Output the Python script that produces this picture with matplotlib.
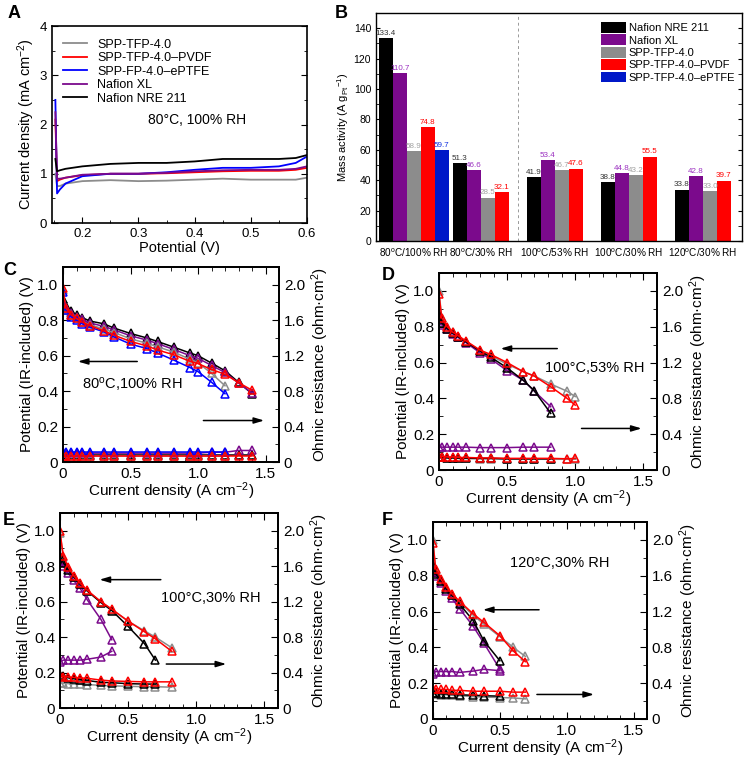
import numpy as np
import matplotlib
matplotlib.use("Agg")
import matplotlib.pyplot as plt
from matplotlib.ticker import MultipleLocator
from matplotlib.patches import Patch

plt.rcParams['font.family'] = ['Liberation Sans', 'DejaVu Sans']
plt.rcParams['mathtext.fontset'] = 'custom'
plt.rcParams['mathtext.rm'] = 'Liberation Sans'
plt.rcParams['mathtext.it'] = 'Liberation Sans:italic'
plt.rcParams['mathtext.bf'] = 'Liberation Sans:bold'
plt.rcParams['xtick.direction'] = 'in'
plt.rcParams['ytick.direction'] = 'in'

BLACK = 'black'
PURPLE = '#7B0A8C'
GRAY = '#8C8C8C'
RED = '#FF0000'
BLUE = '#0000FF'

# ---- panel A: crossover current
potA = [0.152, 0.155, 0.16, 0.17, 0.2, 0.25, 0.3, 0.35, 0.4, 0.45, 0.5, 0.55, 0.58, 0.6]
curA_gray = [1.0, 0.75, 0.75, 0.8, 0.85, 0.87, 0.85, 0.86, 0.88, 0.9, 0.88, 0.88, 0.88, 0.92]
curA_red = [2.1, 0.85, 0.88, 0.92, 0.97, 1.0, 1.0, 1.01, 1.03, 1.05, 1.06, 1.06, 1.08, 1.12]
curA_blue = [2.5, 0.6, 0.68, 0.8, 0.95, 1.0, 1.0, 1.03, 1.08, 1.12, 1.12, 1.15, 1.22, 1.35]
curA_purple = [2.25, 0.9, 0.9, 0.92, 0.98, 1.0, 1.0, 1.02, 1.05, 1.07, 1.08, 1.08, 1.1, 1.15]
curA_black = [1.3, 1.05, 1.07, 1.1, 1.15, 1.2, 1.22, 1.22, 1.25, 1.3, 1.3, 1.3, 1.32, 1.38]

# ---- panel B: mass activity
groupsB = ['80$^{\\rm o}$C/100% RH', '80$^{\\rm o}$C/30% RH', '100$^{\\rm o}$C/53% RH',
           '100$^{\\rm o}$C/30% RH', '120$^{\\rm o}$C/30% RH']
nameB = ['Nafion NRE 211', 'Nafion XL', 'SPP-TFP-4.0', 'SPP-TFP-4.0\u2013PVDF', 'SPP-TFP-4.0\u2013ePTFE']
ma_nre211 = [133.4, 51.3, 41.9, 38.8, 33.8]
ma_xl = [110.7, 46.6, 53.4, 44.8, 42.8]
ma_tfp = [58.9, 28.5, 46.7, 43.2, 33.0]
ma_pvdf = [74.8, 32.1, 47.6, 55.5, 39.7]
ma_eptfe = [59.7]

# ---- panel C: 80C 100% RH
jC = [0, 0.02, 0.06, 0.1, 0.14, 0.2, 0.3, 0.38, 0.5, 0.62, 0.7, 0.82, 0.94, 1.0, 1.1, 1.2, 1.3, 1.4]
vC_red = [0.98, 0.87, 0.83, 0.81, 0.79, 0.77, 0.74, 0.715, 0.68, 0.655, 0.632, 0.605, 0.568, 0.555, 0.522, 0.495, 0.448, 0.405]
vC_black = [0.92, 0.88, 0.85, 0.83, 0.815, 0.795, 0.78, 0.755, 0.725, 0.70, 0.68, 0.648, 0.615, 0.60, 0.558, 0.515, 0.45, 0.385]
vC_purple = [0.90, 0.87, 0.84, 0.82, 0.805, 0.785, 0.765, 0.745, 0.712, 0.688, 0.668, 0.635, 0.60, 0.585, 0.545, 0.505, 0.445, 0.39]
vC_gray = [0.97, 0.86, 0.83, 0.81, 0.79, 0.775, 0.75, 0.73, 0.695, 0.67, 0.65, 0.62, 0.58, 0.56, 0.50, 0.43]
vC_blue = [0.96, 0.86, 0.82, 0.80, 0.78, 0.76, 0.735, 0.705, 0.665, 0.64, 0.615, 0.575, 0.533, 0.51, 0.45, 0.385]
rC_red = [0.07, 0.07, 0.07, 0.07, 0.07, 0.07, 0.07, 0.07, 0.07, 0.07, 0.07, 0.07, 0.07, 0.07, 0.07, 0.07, 0.07, 0.07]
rC_black = [0.08, 0.08, 0.08, 0.08, 0.08, 0.08, 0.08, 0.08, 0.08, 0.08, 0.08, 0.08, 0.08, 0.08, 0.08, 0.08, 0.08, 0.08]
rC_purple = [0.10, 0.10, 0.10, 0.10, 0.10, 0.10, 0.10, 0.10, 0.10, 0.10, 0.10, 0.10, 0.10, 0.10, 0.11, 0.11, 0.13, 0.13]
rC_gray = [0.065, 0.065, 0.065, 0.065, 0.065, 0.065, 0.065, 0.065, 0.065, 0.065, 0.065, 0.065, 0.065, 0.065, 0.065, 0.065]
rC_blue = [0.115, 0.115, 0.115, 0.115, 0.115, 0.115, 0.115, 0.115, 0.115, 0.115, 0.115, 0.115, 0.115, 0.115, 0.115, 0.115]

# ---- panel D: 100C 53% RH
jD = [0, 0.02, 0.06, 0.1, 0.14, 0.2, 0.3, 0.38, 0.5, 0.62, 0.7, 0.82, 0.94, 1.0]
vD_red = [0.98, 0.85, 0.80, 0.77, 0.75, 0.72, 0.67, 0.645, 0.60, 0.548, 0.524, 0.465, 0.40, 0.362]
vD_gray = [1.0, 0.85, 0.80, 0.77, 0.745, 0.715, 0.665, 0.64, 0.59, 0.55, 0.525, 0.48, 0.44, 0.41]
vD_black = [0.87, 0.82, 0.79, 0.765, 0.745, 0.715, 0.665, 0.63, 0.57, 0.50, 0.442, 0.316]
vD_purple = [0.86, 0.81, 0.785, 0.76, 0.74, 0.71, 0.655, 0.62, 0.555, 0.50, 0.44, 0.353]
rD_purple = [0.26, 0.255, 0.255, 0.255, 0.255, 0.255, 0.25, 0.25, 0.25, 0.255, 0.255, 0.255]
rD_red = [0.15, 0.15, 0.145, 0.145, 0.14, 0.14, 0.135, 0.135, 0.13, 0.13, 0.13, 0.13, 0.125, 0.13]
rD_gray = [0.14, 0.14, 0.135, 0.135, 0.13, 0.13, 0.125, 0.125, 0.12, 0.12, 0.12, 0.12, 0.12, 0.12]
rD_black = [0.14, 0.14, 0.135, 0.135, 0.13, 0.13, 0.13, 0.13, 0.125, 0.125, 0.125, 0.125]

# ---- panel E: 100C 30% RH
jE = [0, 0.024, 0.06, 0.1, 0.146, 0.2, 0.3, 0.38, 0.5, 0.62, 0.7, 0.82]
vE_red = [0.996, 0.857, 0.795, 0.746, 0.705, 0.664, 0.60, 0.558, 0.49, 0.43, 0.39, 0.32]
vE_gray = [0.99, 0.85, 0.79, 0.74, 0.70, 0.66, 0.60, 0.555, 0.49, 0.435, 0.40, 0.34]
vE_black = [0.86, 0.82, 0.78, 0.74, 0.70, 0.66, 0.595, 0.55, 0.46, 0.363, 0.27]
vE_purple = [0.83, 0.80, 0.76, 0.72, 0.677, 0.61, 0.50, 0.385]
rE_purple = [0.515, 0.54, 0.54, 0.54, 0.54, 0.55, 0.575, 0.64]
rE_red = [0.36, 0.355, 0.35, 0.345, 0.34, 0.335, 0.315, 0.305, 0.30, 0.295, 0.295, 0.295]
rE_gray = [0.28, 0.28, 0.275, 0.27, 0.27, 0.265, 0.255, 0.25, 0.245, 0.24, 0.24, 0.235]
rE_black = [0.37, 0.36, 0.34, 0.33, 0.32, 0.31, 0.29, 0.285, 0.275, 0.27, 0.27]

# ---- panel F: 120C 30% RH
jF = [0, 0.02, 0.06, 0.1, 0.14, 0.2, 0.3, 0.38, 0.5, 0.6, 0.69]
vF_red = [0.98, 0.84, 0.78, 0.737, 0.70, 0.657, 0.587, 0.54, 0.465, 0.38, 0.32]
vF_gray = [1.0, 0.83, 0.77, 0.73, 0.695, 0.65, 0.58, 0.53, 0.46, 0.40, 0.35]
vF_black = [0.86, 0.81, 0.77, 0.725, 0.69, 0.64, 0.55, 0.437, 0.325]
vF_purple = [0.84, 0.80, 0.76, 0.715, 0.675, 0.615, 0.518, 0.424, 0.278]
rF_purple = [0.50, 0.53, 0.53, 0.53, 0.53, 0.52, 0.535, 0.555, 0.54]
rF_red = [0.33, 0.34, 0.33, 0.33, 0.32, 0.32, 0.31, 0.31, 0.31, 0.30, 0.30]
rF_gray = [0.28, 0.28, 0.27, 0.27, 0.265, 0.26, 0.25, 0.245, 0.24, 0.235, 0.225]
rF_black = [0.29, 0.29, 0.28, 0.28, 0.275, 0.27, 0.265, 0.26, 0.255]

fig = plt.figure(figsize=(7.5, 7.6), dpi=100)
W, H = 750.0, 760.0


def box(x0, y0, x1, y1):
    return [x0 / W, 1 - y1 / H, (x1 - x0) / W, (y1 - y0) / H]


# ================= A
axA = fig.add_axes(box(52, 26, 307, 223))
axA.plot(potA, curA_gray, color=GRAY, lw=1.3, label='SPP-TFP-4.0')
axA.plot(potA, curA_red, color=RED, lw=1.3, label='SPP-TFP-4.0\u2013PVDF')
axA.plot(potA, curA_blue, color=BLUE, lw=1.3, label='SPP-FP-4.0\u2013ePTFE')
axA.plot(potA, curA_purple, color=PURPLE, lw=1.3, label='Nafion XL')
axA.plot(potA, curA_black, color=BLACK, lw=1.3, label='Nafion NRE 211')
axA.set_xlim(0.146, 0.6)
axA.set_ylim(0, 4)
axA.xaxis.set_major_locator(MultipleLocator(0.1))
axA.xaxis.set_minor_locator(MultipleLocator(0.05))
axA.yaxis.set_major_locator(MultipleLocator(1))
axA.yaxis.set_minor_locator(MultipleLocator(0.5))
axA.tick_params(which='both', right=True, labelsize=9.5)
axA.tick_params(which='major', length=4)
axA.tick_params(which='minor', length=2)
axA.set_xlabel('Potential (V)', fontsize=10.5, labelpad=1)
axA.set_ylabel('Current density (mA cm$^{-2}$)', fontsize=10.5, labelpad=2)
axA.legend(loc='upper left', frameon=False, fontsize=9, handlelength=1.9,
           labelspacing=0.12, borderaxespad=0.3, bbox_to_anchor=(0.01, 0.98))
axA.text(0.405, 2.1, '80\u00b0C, 100% RH', fontsize=10, ha='center', va='center')
for s in axA.spines.values():
    s.set_linewidth(1.2)

# ================= B
axB = fig.add_axes(box(376, 13, 742, 241))
w = 0.189
seriesB = [ma_nre211, ma_xl, ma_tfp, ma_pvdf, ma_eptfe]
colB = [BLACK, PURPLE, GRAY, RED, '#0018C8']
txtB = ['#333333', '#9B30C0', '#A0A0A0', RED, '#1030E0']
for k, vals in enumerate(seriesB):
    xs = [g + (k + 0.5) * w for g in range(len(vals))]
    axB.bar(xs, vals, width=w, color=colB[k], label=nameB[k], linewidth=0)
    for xv, yv in zip(xs, vals):
        axB.text(xv, yv + 0.8, '%.1f' % yv, fontsize=5.8, color=txtB[k],
                 ha='center', va='bottom')
axB.axvline(1.88, color='#999999', lw=0.7, ls=(0, (3, 3)))
axB.set_xlim(-0.04, 4.905)
axB.set_ylim(0, 150)
centers = [g + 2.0 * w if g > 0 else g + 2.5 * w for g in range(5)]
axB.set_xticks(centers)
axB.set_xticklabels(groupsB, fontsize=7.2)
axB.yaxis.set_major_locator(MultipleLocator(20))
axB.yaxis.set_minor_locator(MultipleLocator(10))
axB.tick_params(axis='x', length=0, pad=4)
axB.tick_params(axis='y', which='both', right=True, labelsize=7.5, length=3)
axB.set_ylabel('Mass activity (A g$_{\\rm Pt}$$^{-1}$)', fontsize=8, labelpad=2)
hB = [Patch(facecolor=c) for c in colB]
axB.legend(hB, nameB, loc='upper right', frameon=False, fontsize=8,
           handlelength=2.2, handleheight=1.1, labelspacing=0.12,
           handletextpad=0.3, borderaxespad=0.2, bbox_to_anchor=(1.0, 0.99))
for s in axB.spines.values():
    s.set_linewidth(1.0)


# ================= C-F
def polpanel(rect, j, vsets, rsets, txt, txtpos, larr, rarr):
    ax = fig.add_axes(box(*rect))
    ax2 = ax.twinx()
    for vals, col in vsets:
        ax.plot(j[:len(vals)], vals, color=col, lw=1.1, marker='^', ms=6,
                mfc='none', mec=col, mew=1.1)
    for vals, col in rsets:
        ax2.plot(j[:len(vals)], vals, color=col, lw=1.1, marker='^', ms=6,
                 mfc='none', mec=col, mew=1.1)
    ax.set_xlim(0, 1.6)
    ax.set_ylim(0, 1.1)
    ax2.set_ylim(0, 2.2)
    ax.xaxis.set_minor_locator(MultipleLocator(0.1))
    ax.yaxis.set_minor_locator(MultipleLocator(0.1))
    ax2.yaxis.set_minor_locator(MultipleLocator(0.2))
    ax.set_xticks([0, 0.5, 1.0, 1.5])
    ax.set_xticklabels(['0', '0.5', '1.0', '1.5'])
    ax.set_yticks([0, 0.2, 0.4, 0.6, 0.8, 1.0])
    ax.set_yticklabels(['0', '0.2', '0.4', '0.6', '0.8', '1.0'])
    ax2.set_yticks([0, 0.4, 0.8, 1.2, 1.6, 2.0])
    ax2.set_yticklabels(['0', '0.4', '0.8', '1.2', '1.6', '2.0'])
    ax.tick_params(which='both', top=True, labelsize=11)
    ax2.tick_params(which='both', labelsize=11)
    for a in (ax, ax2):
        a.tick_params(which='major', length=5)
        a.tick_params(which='minor', length=3)
    ax.set_xlabel('Current density (A cm$^{-2}$)', fontsize=11, labelpad=0)
    ax.set_ylabel('Potential (IR-included) (V)', fontsize=11, labelpad=2)
    ax2.set_ylabel('Ohmic resistance (ohm\u00b7cm$^{2}$)', fontsize=11, labelpad=3)
    ax.text(txtpos[0], txtpos[1], txt, fontsize=10.5, ha='left', va='center')
    ax.annotate('', xy=(larr[1], larr[2]), xytext=(larr[0], larr[2]),
                arrowprops=dict(arrowstyle='-|>,head_length=0.6,head_width=0.18',
                                color='black', lw=1.1, shrinkA=0, shrinkB=0))
    ax.annotate('', xy=(rarr[1], rarr[2]), xytext=(rarr[0], rarr[2]),
                arrowprops=dict(arrowstyle='-|>,head_length=0.6,head_width=0.18',
                                color='black', lw=1.1, shrinkA=0, shrinkB=0))
    for a in (ax, ax2):
        for s in a.spines.values():
            s.set_linewidth(1.3)
    return ax


polpanel((63, 267, 279, 462), jC,
         [(vC_black, BLACK), (vC_purple, PURPLE), (vC_gray, GRAY), (vC_blue, BLUE), (vC_red, RED)],
         [(rC_black, BLACK), (rC_purple, PURPLE), (rC_gray, GRAY), (rC_blue, BLUE), (rC_red, RED)],
         '80$^{\\rm o}$C,100% RH', (0.14, 0.44), (0.55, 0.11, 0.567), (1.04, 1.49, 0.234))

polpanel((439, 273, 657, 470), jD,
         [(vD_gray, GRAY), (vD_purple, PURPLE), (vD_black, BLACK), (vD_red, RED)],
         [(rD_gray, GRAY), (rD_black, BLACK), (rD_purple, PURPLE), (rD_red, RED)],
         '100\u00b0C,53% RH', (0.78, 0.567), (0.868, 0.452, 0.678), (1.046, 1.487, 0.232))

polpanel((60, 513, 278, 708), jE,
         [(vE_gray, GRAY), (vE_purple, PURPLE), (vE_black, BLACK), (vE_red, RED)],
         [(rE_gray, GRAY), (rE_black, BLACK), (rE_purple, PURPLE), (rE_red, RED)],
         '100\u00b0C,30% RH', (0.74, 0.62), (0.74, 0.29, 0.724), (0.78, 1.22, 0.248))

polpanel((433, 522, 647, 719), jF,
         [(vF_gray, GRAY), (vF_purple, PURPLE), (vF_black, BLACK), (vF_red, RED)],
         [(rF_gray, GRAY), (rF_black, BLACK), (rF_purple, PURPLE), (rF_red, RED)],
         '120\u00b0C,30% RH', (0.575, 0.872), (0.793, 0.373, 0.61), (0.777, 1.204, 0.137))

# panel letters
for lt, px, py in [('A', 8, 5), ('B', 335, 5), ('C', 3, 262), ('D', 382, 267),
                   ('E', 3, 512), ('F', 382, 512)]:
    fig.text(px / W, 1 - py / H, lt, fontsize=13, fontweight='bold', ha='left', va='top')

fig.savefig('out.png', dpi=100)
